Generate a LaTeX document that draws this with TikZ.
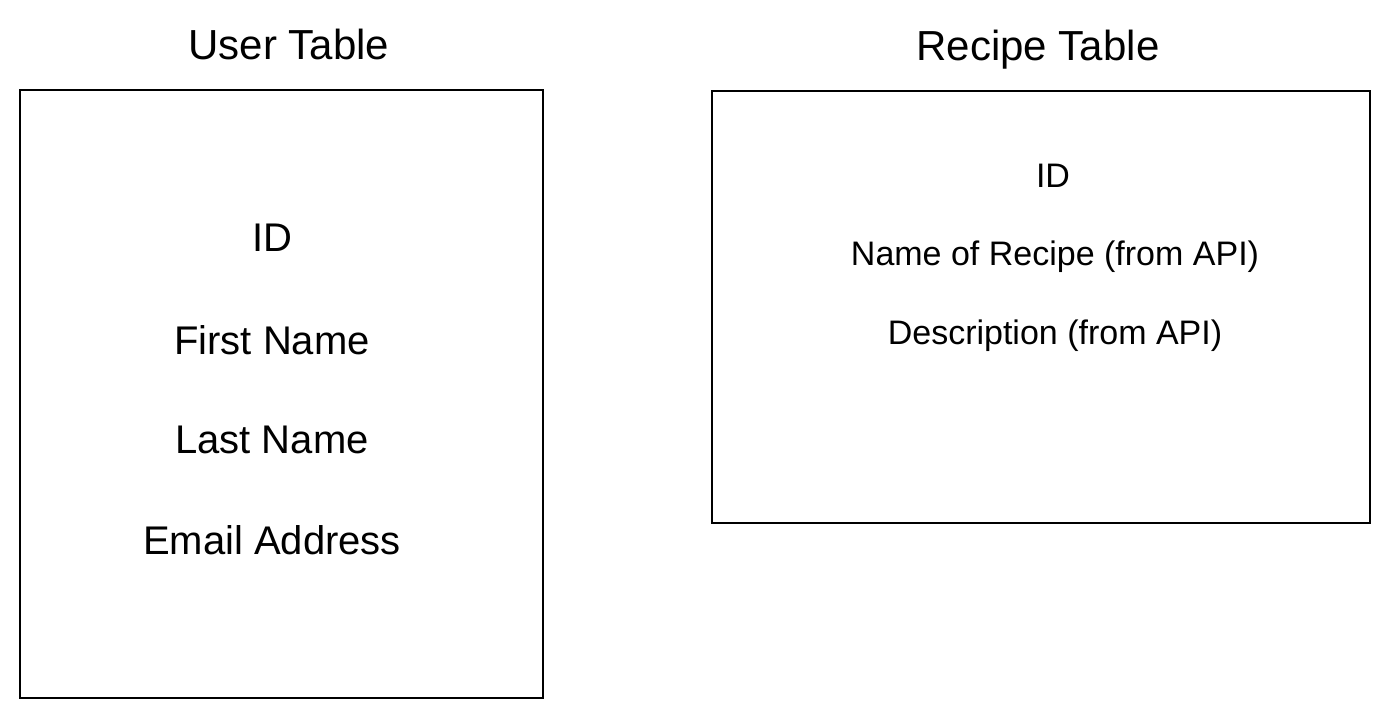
\documentclass[tikz,border=0pt]{standalone}
\usepackage{fontspec}
\setmainfont{Liberation Sans}
\begin{document}
\begin{tikzpicture}[x=1pt,y=-1pt,
  table/.style={draw=black,line width=1.6pt},
  title/.style={font=\fontsize{42}{44}\selectfont,anchor=center,inner sep=0pt},
  bigitem/.style={font=\fontsize{40}{44}\selectfont,anchor=center,inner sep=0pt},
  smallitem/.style={font=\fontsize{34}{38}\selectfont,anchor=center,inner sep=0pt}]
\useasboundingbox[fill=white] (0,0) rectangle (1391,719);
% User table
\node[title] (ut) at (289,44) {User Table};
\draw[table] (20,90) coordinate (u1) rectangle (543,698) coordinate (u2);
\node[bigitem] (uid) at (272,238) {ID};
\node[bigitem] (ufn) at (272,340) {First Name};
\node[bigitem] (uln) at (272,440) {Last Name};
\node[bigitem] (uem) at (272,540) {Email Address};
% Recipe table
\node[title] (rt) at (1038,50) {Recipe Table};
\draw[table] (712,91) coordinate (r1) rectangle (1370,523) coordinate (r2);
\node[smallitem] (rid) at (1053,176) {ID};
\node[smallitem] (rname) at (1055,257) {Name of Recipe (from API)};
\node[smallitem] (rdesc) at (1055,336) {Description (from API)};
\end{tikzpicture}
\end{document}
